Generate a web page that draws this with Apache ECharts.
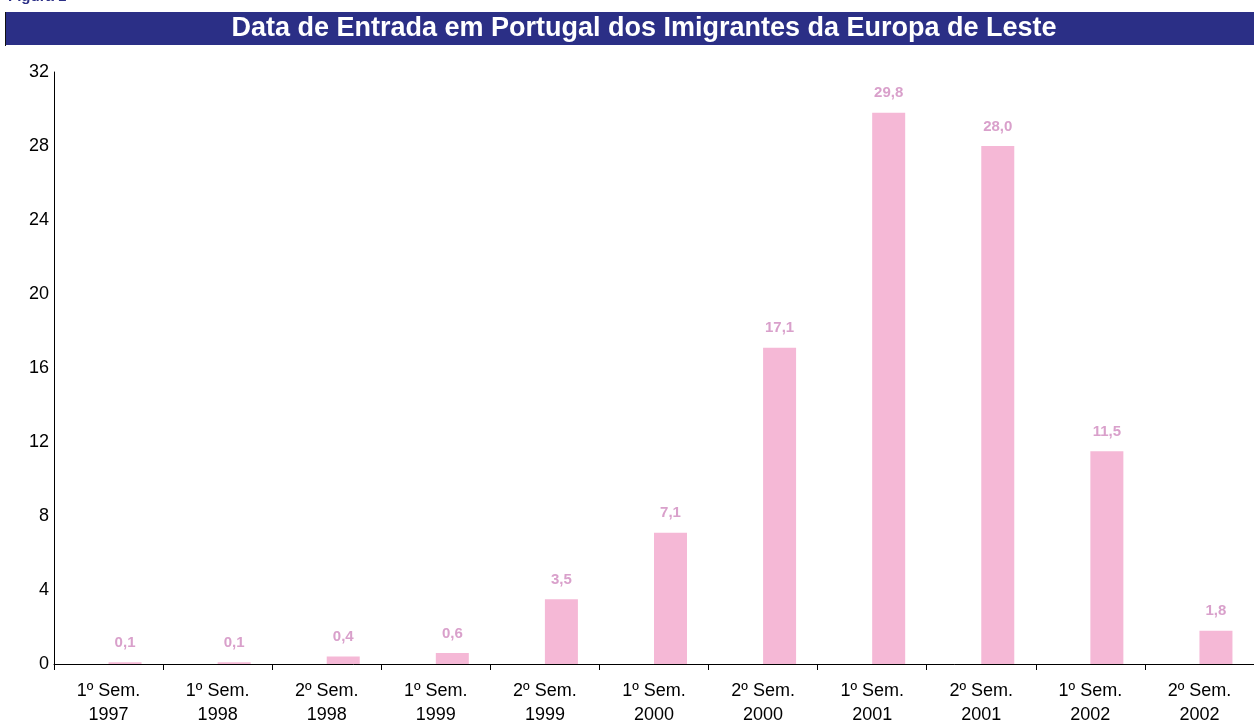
<!DOCTYPE html>
<html>
<head>
<meta charset="utf-8">
<script src="https://cdn.jsdelivr.net/npm/echarts@6/dist/echarts.min.js"></script>
<style>
html,body{margin:0;padding:0;background:#fff;}
#chart{width:1254px;height:724px;}
</style>
</head>
<body>
<div id="chart"></div>
<script>
var categories = ['1º Sem.\n1997','1º Sem.\n1998','2º Sem.\n1998','1º Sem.\n1999','2º Sem.\n1999','1º Sem.\n2000','2º Sem.\n2000','1º Sem.\n2001','2º Sem.\n2001','1º Sem.\n2002','2º Sem.\n2002'];
var values = [0.1, 0.1, 0.4, 0.6, 3.5, 7.1, 17.1, 29.8, 28.0, 11.5, 1.8];
var titleText = 'Data de Entrada em Portugal dos Imigrantes da Europa de Leste';
var figText = 'Figura 1';

var FONT = 'Arial, "Liberation Sans", sans-serif';
var chart = echarts.init(document.getElementById('chart'), null, {renderer:'canvas'});
chart.setOption({
  animation:false,
  graphic:[
    {type:'rect', shape:{x:5,y:12,width:1249,height:33}, style:{fill:'#2B2F86'}},
    {type:'rect', shape:{x:5,y:12,width:1,height:34}, style:{fill:'#111'}},
    {type:'text', x:8, y:4, style:{text:figText, fill:'#2B2F86', font:'bold 15px ' + FONT, textVerticalAlign:'bottom'}},
    {type:'text', x:644, y:29, style:{text:titleText, fill:'#fff', font:'bold 27px ' + FONT, textAlign:'center', textVerticalAlign:'middle'}}
  ],
  grid:{left:54, right:0, top:72, bottom:60, containLabel:false, outerBoundsMode:'none'},
  xAxis:{
    type:'category', data:categories,
    axisLine:{lineStyle:{color:'#000', width:1}},
    axisTick:{show:true, length:6, lineStyle:{color:'#000'}},
    axisLabel:{color:'#000', fontSize:18, fontFamily:FONT, lineHeight:24, margin:15, interval:0}
  },
  yAxis:{
    type:'value', min:0, max:32, interval:4,
    axisLine:{show:true, lineStyle:{color:'#000', width:1}},
    axisTick:{show:false},
    splitLine:{show:false},
    axisLabel:{color:'#000', fontSize:18, fontFamily:FONT, margin:5}
  },
  series:[
    {type:'bar', data:values.map(function(){return '-';}), barWidth:33, barGap:'0%', silent:true},
    {
    type:'bar', data:values, barWidth:33, barGap:'0%',
    itemStyle:{color:'#F5B8D6'},
    label:{show:true, position:'top', distance:12, color:'#D9A0CB', fontWeight:'bold', fontSize:15, fontFamily:FONT,
      formatter:function(p){return p.value.toFixed(1).replace('.',',');}}
  }]
});
</script>
</body>
</html>
